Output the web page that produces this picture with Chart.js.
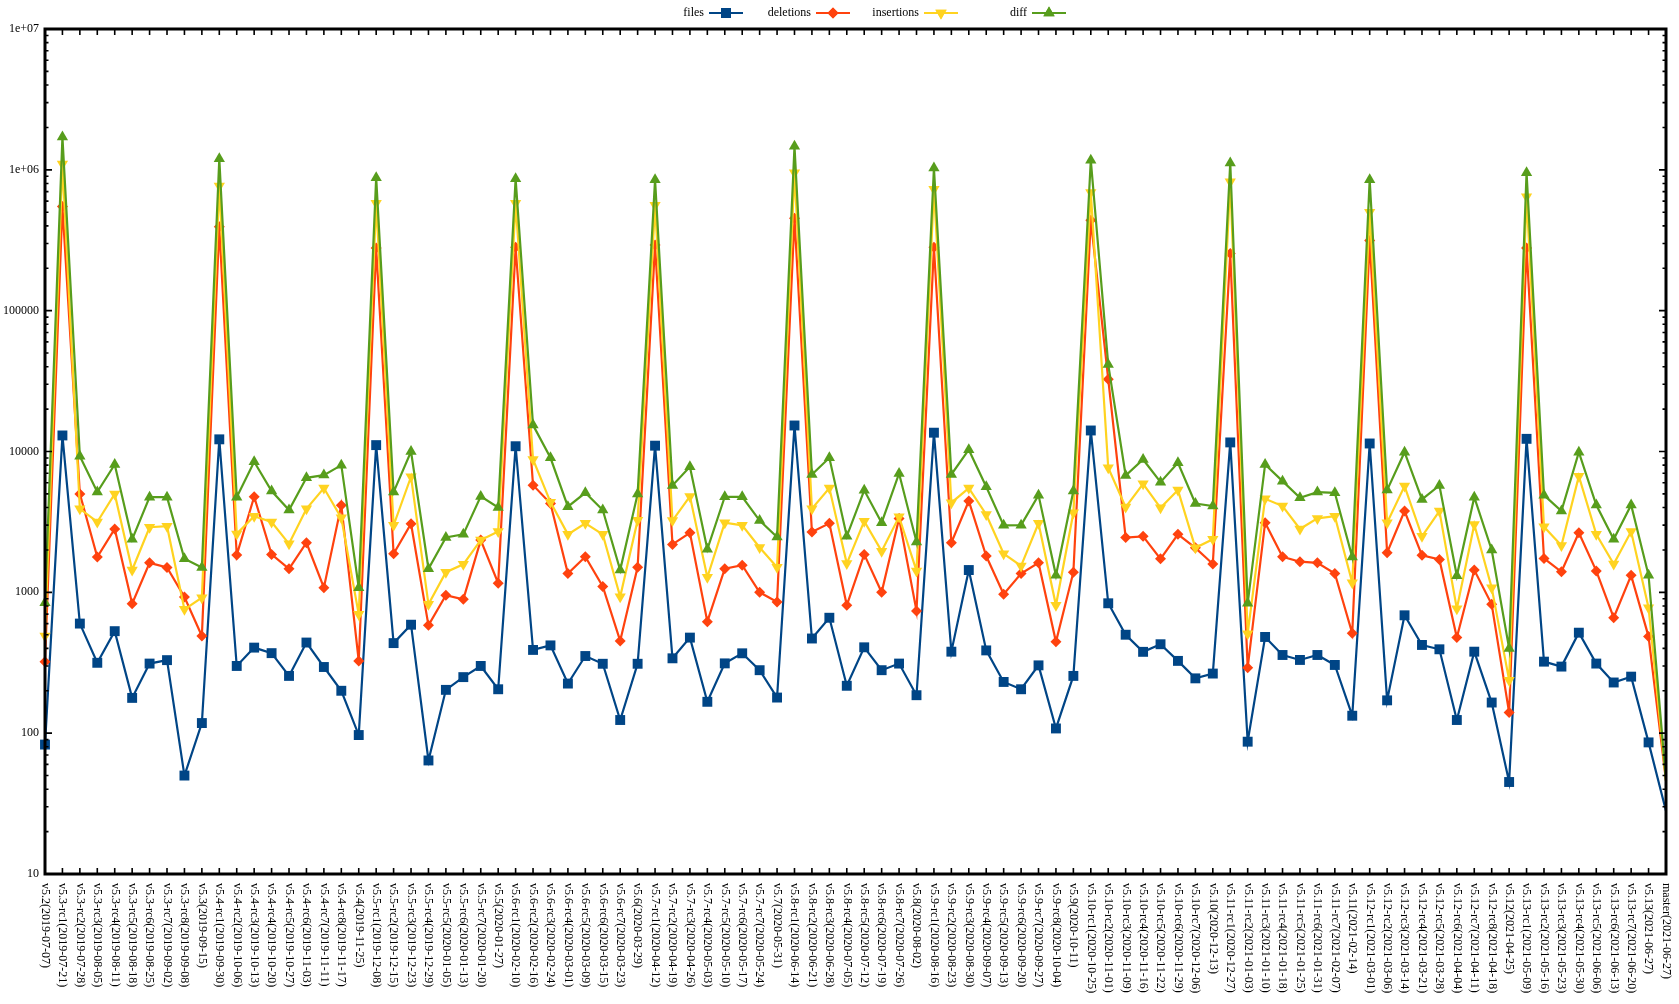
<!DOCTYPE html>
<html><head><meta charset="utf-8">
<script src="https://cdn.jsdelivr.net/npm/chart.js@4/dist/chart.umd.min.js"></script>
<style>html,body{margin:0;padding:0;background:#fff;}#wrap{width:1679px;height:1004px;position:relative;}</style>
</head><body><div id="wrap"><canvas id="c"></canvas></div>
<script>
const categories = ["v5.2(2019-07-07)","v5.3-rc1(2019-07-21)","v5.3-rc2(2019-07-28)","v5.3-rc3(2019-08-05)","v5.3-rc4(2019-08-11)","v5.3-rc5(2019-08-18)","v5.3-rc6(2019-08-25)","v5.3-rc7(2019-09-02)","v5.3-rc8(2019-09-08)","v5.3(2019-09-15)","v5.4-rc1(2019-09-30)","v5.4-rc2(2019-10-06)","v5.4-rc3(2019-10-13)","v5.4-rc4(2019-10-20)","v5.4-rc5(2019-10-27)","v5.4-rc6(2019-11-03)","v5.4-rc7(2019-11-11)","v5.4-rc8(2019-11-17)","v5.4(2019-11-25)","v5.5-rc1(2019-12-08)","v5.5-rc2(2019-12-15)","v5.5-rc3(2019-12-23)","v5.5-rc4(2019-12-29)","v5.5-rc5(2020-01-05)","v5.5-rc6(2020-01-13)","v5.5-rc7(2020-01-20)","v5.5(2020-01-27)","v5.6-rc1(2020-02-10)","v5.6-rc2(2020-02-16)","v5.6-rc3(2020-02-24)","v5.6-rc4(2020-03-01)","v5.6-rc5(2020-03-09)","v5.6-rc6(2020-03-15)","v5.6-rc7(2020-03-23)","v5.6(2020-03-29)","v5.7-rc1(2020-04-12)","v5.7-rc2(2020-04-19)","v5.7-rc3(2020-04-26)","v5.7-rc4(2020-05-03)","v5.7-rc5(2020-05-10)","v5.7-rc6(2020-05-17)","v5.7-rc7(2020-05-24)","v5.7(2020-05-31)","v5.8-rc1(2020-06-14)","v5.8-rc2(2020-06-21)","v5.8-rc3(2020-06-28)","v5.8-rc4(2020-07-05)","v5.8-rc5(2020-07-12)","v5.8-rc6(2020-07-19)","v5.8-rc7(2020-07-26)","v5.8(2020-08-02)","v5.9-rc1(2020-08-16)","v5.9-rc2(2020-08-23)","v5.9-rc3(2020-08-30)","v5.9-rc4(2020-09-07)","v5.9-rc5(2020-09-13)","v5.9-rc6(2020-09-20)","v5.9-rc7(2020-09-27)","v5.9-rc8(2020-10-04)","v5.9(2020-10-11)","v5.10-rc1(2020-10-25)","v5.10-rc2(2020-11-01)","v5.10-rc3(2020-11-09)","v5.10-rc4(2020-11-16)","v5.10-rc5(2020-11-22)","v5.10-rc6(2020-11-29)","v5.10-rc7(2020-12-06)","v5.10(2020-12-13)","v5.11-rc1(2020-12-27)","v5.11-rc2(2021-01-03)","v5.11-rc3(2021-01-10)","v5.11-rc4(2021-01-18)","v5.11-rc5(2021-01-25)","v5.11-rc6(2021-01-31)","v5.11-rc7(2021-02-07)","v5.11(2021-02-14)","v5.12-rc1(2021-03-01)","v5.12-rc2(2021-03-06)","v5.12-rc3(2021-03-14)","v5.12-rc4(2021-03-21)","v5.12-rc5(2021-03-28)","v5.12-rc6(2021-04-04)","v5.12-rc7(2021-04-11)","v5.12-rc8(2021-04-18)","v5.12(2021-04-25)","v5.13-rc1(2021-05-09)","v5.13-rc2(2021-05-16)","v5.13-rc3(2021-05-23)","v5.13-rc4(2021-05-30)","v5.13-rc5(2021-06-06)","v5.13-rc6(2021-06-13)","v5.13-rc7(2021-06-20)","v5.13(2021-06-27)","master(2021-06-27)"];

const files = [83,13000,600,316,530,178,312,330,50,118,12200,300,405,370,255,440,295,200,97,11100,436,589,64,203,250,300,205,10900,390,420,225,353,311,124,311,11000,340,477,167,313,369,280,179,15300,470,660,217,407,280,312,186,13600,379,1440,387,231,205,303,108,255,14100,836,500,378,428,326,245,265,11600,87,482,359,331,359,305,133,11400,171,687,423,394,124,379,165,45,12300,322,297,517,312,229,252,86,28];

const deletions = [322,550000,5000,1780,2820,830,1620,1500,926,490,394000,1840,4770,1860,1470,2250,1080,4160,326,279000,1880,3070,583,953,892,2350,1160,282000,5770,4270,1360,1790,1100,452,1510,293000,2190,2650,619,1470,1560,1000,855,454000,2680,3090,809,1860,1000,3350,738,282000,2250,4450,1810,968,1360,1620,445,1390,439000,32600,2450,2500,1730,2580,2070,1590,255000,292,3120,1790,1650,1620,1360,512,315000,1910,3780,1830,1710,477,1440,822,140,279000,1740,1400,2650,1420,661,1320,485,46];

const insertions = [490,1100000,3920,3160,5000,1440,2900,2950,757,917,767000,2600,3470,3160,2210,3920,5500,3380,698,580000,2990,6620,822,1390,1580,2350,2700,580000,8780,4370,2580,3090,2580,931,3250,560000,3230,4800,1280,3120,2990,2080,1510,955000,3920,5500,1600,3200,1960,3440,1420,728000,4330,5500,3570,1880,1540,3090,809,3670,690000,7660,4030,5900,3980,5320,2070,2380,822000,509,4620,4100,2820,3350,3470,1170,500000,3120,5680,2500,3780,766,3030,1080,238,643000,2920,2150,6680,2580,1590,2700,778,46];

const diff = [843,1710000,9270,5150,8090,2380,4740,4740,1730,1500,1200000,4740,8450,5240,3840,6500,6800,8000,1080,880000,5150,10000,1470,2450,2580,4800,4000,865000,15400,9020,4060,5090,3840,1440,5000,850000,5740,7780,2020,4770,4770,3230,2470,1470000,6870,9020,2500,5300,3120,6980,2280,1030000,6870,10300,5620,2990,3000,4900,1320,5240,1170000,41400,6760,8780,6060,8310,4270,4100,1120000,836,8090,6160,4690,5150,5090,1780,850000,5320,9890,4570,5740,1310,4740,2000,400,955000,4900,3780,9890,4170,2380,4170,1320,46];

const seriesNames = ["files","deletions","insertions","diff"];
const yTickLabels = {"7":"1e+07","6":"1e+06","5":"100000","4":"10000","3":"1000","2":"100","1":"10"};

const colors = ["#004586","#ff420e","#ffd320","#579d1c"];
const markers = [
  {style:"rect", radius:7, rotation:0},
  {style:"rectRot", radius:5.5, rotation:0},
  {style:"triangle", radius:6.5, rotation:180},
  {style:"triangle", radius:6.5, rotation:0}
];
const FONT = '"Liberation Serif", "DejaVu Serif", serif';
const seriesData = [files, deletions, insertions, diff];
const lastIdx = categories.length - 1;

const datasets = seriesNames.map((name, i) => ({
  label: name,
  data: seriesData[i],
  borderColor: colors[i],
  backgroundColor: colors[i],
  borderWidth: 2.2,
  pointStyle: markers[i].style,
  pointRotation: markers[i].rotation,
  pointRadius: (ctx) => ctx.dataIndex === lastIdx ? 0 : markers[i].radius,
  pointHoverRadius: 0,
  pointBackgroundColor: colors[i],
  pointBorderColor: colors[i],
  pointBorderWidth: 0,
  tension: 0,
  clip: false,
  order: 4 - i
}));

const framePlugin = {
  id: "frame",
  afterDraw(chart) {
    const ctx = chart.ctx;
    const a = chart.chartArea;
    const xs = chart.scales.x, ys = chart.scales.y;
    ctx.save();
    ctx.strokeStyle = "#000";
    // x ticks (top and bottom, inward)
    ctx.lineWidth = 1.6;
    ctx.beginPath();
    for (let i = 0; i < categories.length; i++) {
      const x = xs.getPixelForValue(i);
      ctx.moveTo(x, a.top); ctx.lineTo(x, a.top + 6);
      ctx.moveTo(x, a.bottom); ctx.lineTo(x, a.bottom - 6);
    }
    // y ticks (left and right, inward)
    for (let e = 1; e <= 7; e++) {
      for (let m = 1; m <= 9; m++) {
        const v = m * Math.pow(10, e);
        if (v > 1e7) break;
        const y = ys.getPixelForValue(v);
        const len = m === 1 ? 7 : 3.5;
        ctx.moveTo(a.left, y); ctx.lineTo(a.left + len, y);
        ctx.moveTo(a.right, y); ctx.lineTo(a.right - len, y);
      }
    }
    ctx.stroke();
    // border
    ctx.lineWidth = 3;
    ctx.strokeRect(a.left, a.top, a.right - a.left, a.bottom - a.top);
    // x labels, reading top to bottom
    ctx.fillStyle = "#000";
    ctx.font = "12px " + FONT;
    ctx.textAlign = "left";
    ctx.textBaseline = "middle";
    for (let i = 0; i < categories.length; i++) {
      const x = xs.getPixelForValue(i);
      ctx.save();
      ctx.translate(x, a.bottom + 9);
      ctx.rotate(Math.PI / 2);
      ctx.fillText(categories[i], 0, 0);
      ctx.restore();
    }
    // legend
    const centers = [726, 833, 941, 1049];
    const ly = 13;
    for (let i = 0; i < seriesNames.length; i++) {
      const cx = centers[i];
      ctx.fillStyle = "#000";
      ctx.textAlign = "right";
      ctx.fillText(seriesNames[i], cx - 22, ly);
      ctx.strokeStyle = colors[i];
      ctx.lineWidth = 2.2;
      ctx.beginPath();
      ctx.moveTo(cx - 17, ly); ctx.lineTo(cx + 17, ly);
      ctx.stroke();
      ctx.fillStyle = colors[i];
      ctx.strokeStyle = colors[i];
      Chart.helpers.drawPoint(ctx, {pointStyle: markers[i].style, radius: markers[i].radius, rotation: markers[i].rotation, borderWidth: 0}, cx, ly);
      ctx.fill();
    }
    ctx.restore();
  }
};

new Chart(document.getElementById("c"), {
  type: "line",
  data: { labels: categories, datasets: datasets },
  options: {
    responsive: true,
    maintainAspectRatio: false,
    animation: false,
    events: [],
    layout: { padding: { left: 0, right: 13, top: 29, bottom: 0 } },
    plugins: { legend: { display: false }, tooltip: { enabled: false } },
    scales: {
      x: {
        type: "category",
        offset: false,
        grid: { display: false, drawTicks: false },
        border: { display: false },
        ticks: { display: false },
        afterFit: (s) => { s.height = 130; }
      },
      y: {
        type: "logarithmic",
        min: 10,
        max: 1e7,
        grid: { display: false, drawTicks: false },
        border: { display: false },
        ticks: {
          autoSkip: false,
          padding: 6,
          color: "#000",
          font: { family: FONT, size: 12 },
          callback: (v) => {
            const l = Math.log10(v);
            const r = Math.round(l);
            return Math.abs(l - r) < 1e-9 && yTickLabels[String(r)] ? yTickLabels[String(r)] : "";
          }
        },
        afterFit: (s) => { s.width = 45; }
      }
    }
  },
  plugins: [framePlugin]
});
</script>
</body></html>
